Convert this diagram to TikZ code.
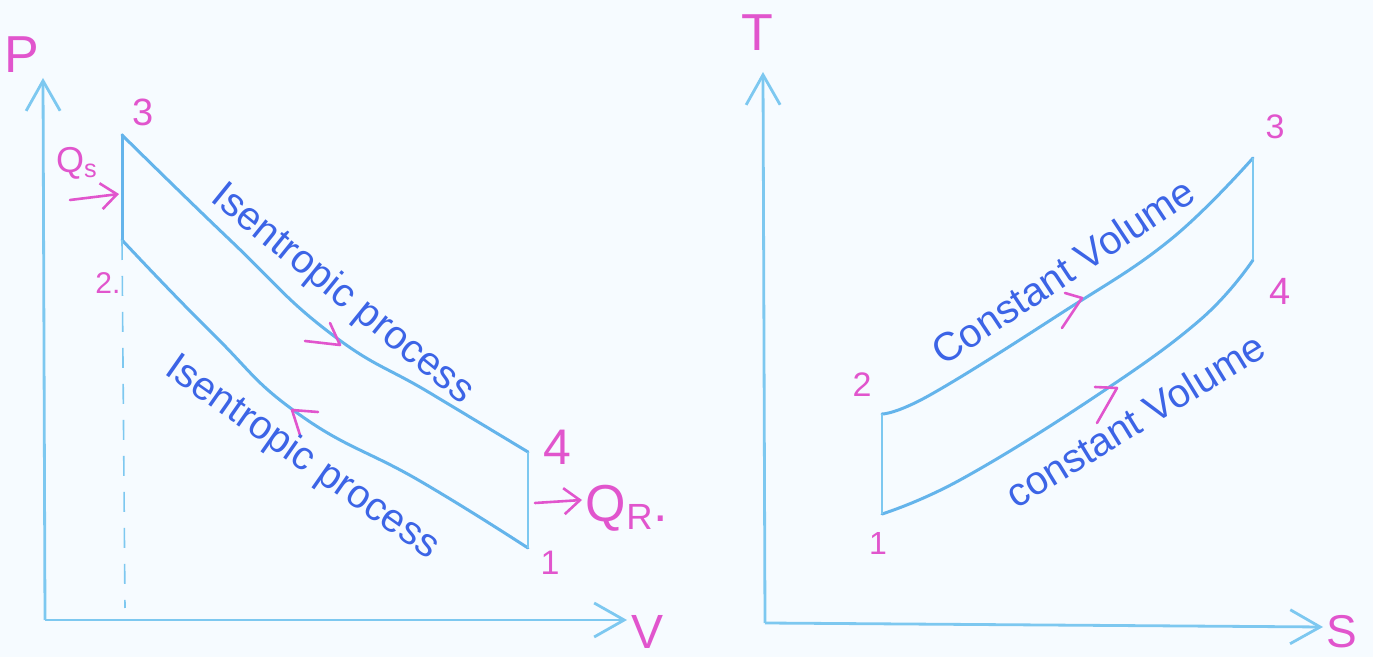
\documentclass[tikz,border=0pt]{standalone}
\usepackage{fontspec}
\setmainfont{Liberation Sans}
\usetikzlibrary{arrows.meta}
\definecolor{bgc}{RGB}{246,251,255}
\definecolor{axisc}{RGB}{125,200,240}
\definecolor{curvec}{RGB}{100,180,235}
\definecolor{inkc}{RGB}{60,100,230}
\definecolor{magc}{RGB}{225,85,205}
\begin{document}
\begin{tikzpicture}[x=0.5pt,y=-0.5pt,
  axisline/.style={draw=axisc,line width=1.4pt,-{Straight Barb[length=15pt,width=17pt]}},
  curve/.style={draw=curvec,line width=1.5pt,line cap=round},
  vline/.style={draw=axisc,line width=1.2pt},
  dashline/.style={draw=axisc,line width=0.8pt,dash pattern=on 10pt off 8pt},
  magline/.style={draw=magc,line width=1.3pt,line cap=round,line join=round},
  magarrow/.style={draw=magc,line width=1.3pt,line cap=round,-{Straight Barb[length=8pt,width=13pt]}},
  lbl/.style={text=magc,inner sep=0pt},
  proc/.style={text=inkc,inner sep=0pt,font=\fontsize{20}{20}\selectfont},
]
\path[fill=bgc] (0,0) rectangle (1373,657);

% ---------- left: P-V diagram ----------
\coordinate (O1) at (45,620);
\coordinate (Ptip) at (43,78);
\coordinate (Vtip) at (627,620);
\draw[axisline] (O1) -- (Ptip);
\draw[axisline] (O1) -- (Vtip);
\node[lbl,font=\fontsize{26}{26}\selectfont] (Plab) at (22,55) {P};
\node[lbl,font=\fontsize{24}{24}\selectfont] (Vlab) at (648,632) {V};

\coordinate (L3) at (122,135);
\coordinate (L2) at (122,240);
\coordinate (L4) at (528,452);
\coordinate (L1) at (528,548);
\coordinate (Ld) at (125,608);

\draw[curve] plot[smooth,tension=0.8] coordinates {(L3) (230,240) (330,333) (430,393) (L4)};
\draw[curve] plot[smooth,tension=0.8] coordinates {(L2) (212,333) (300,415) (420,481) (L1)};
\draw[curve] (L3) -- (L2);
\draw[vline] (L4) -- (L1);
\draw[dashline] (L2) -- (Ld);

\node[lbl,font=\fontsize{19}{19}\selectfont] (n3L) at (143,112) {3};
\node[lbl,font=\fontsize{15}{15}\selectfont] (n2L) at (108,283) {2.};
\node[lbl,font=\fontsize{25}{25}\selectfont] (n4L) at (557,447) {4};
\node[lbl,font=\fontsize{17}{17}\selectfont] (n1L) at (550,563) {1};

\node[lbl,font=\fontsize{18}{18}\selectfont] (Qs) at (77,163) {Q$_{\mathrm{s}}$};
\coordinate (qsT) at (70,200);
\coordinate (qsH) at (119,194);
\draw[magarrow] (qsT) -- (qsH);

\coordinate (qrT) at (535,503);
\coordinate (qrH) at (582,500);
\draw[magarrow] (qrT) -- (qrH);
\node[lbl,font=\fontsize{26}{26}\selectfont] (QR) at (627,508) {Q$_{\mathrm{R}}$.};

\coordinate (ut) at (340,345);
\coordinate (ua1) at (305,341);
\coordinate (ua2) at (330,323);
\draw[magline] (ua1) -- (ut) -- (ua2);
\coordinate (lt) at (292,410);
\coordinate (la1) at (318,412);
\coordinate (la2) at (300,435);
\draw[magline] (la1) -- (lt) -- (la2);

\node[proc,rotate=-39] (isU) at (342,295) {Isentropic process};
\node[proc,rotate=-35] (isL) at (302,458) {Isentropic process};

% ---------- right: T-S diagram ----------
\coordinate (O2) at (765,623);
\coordinate (Ttip) at (763,72);
\coordinate (Stip) at (1323,627);
\draw[axisline] (O2) -- (Ttip);
\draw[axisline] (O2) -- (Stip);
\node[lbl,font=\fontsize{26}{26}\selectfont] (Tlab) at (757,33) {T};
\node[lbl,font=\fontsize{23}{23}\selectfont] (Slab) at (1342,632) {S};

\coordinate (R2) at (882,414);
\coordinate (R1) at (882,514);
\coordinate (R3) at (1253,158);
\coordinate (R4) at (1253,260);

\draw[curve] plot[smooth,tension=0.7] coordinates {(R2) (930,395) (1060,314) (1170,240) (R3)};
\draw[curve] plot[smooth,tension=0.7] coordinates {(R1) (960,480) (1093,398) (1200,320) (R4)};
\draw[vline] (R2) -- (R1);
\draw[vline] (R3) -- (R4);

\node[lbl,font=\fontsize{17}{17}\selectfont] (n2R) at (862,385) {2};
\node[lbl,font=\fontsize{16}{16}\selectfont] (n1R) at (878,543) {1};
\node[lbl,font=\fontsize{17}{17}\selectfont] (n3R) at (1275,127) {3};
\node[lbl,font=\fontsize{19}{19}\selectfont] (n4R) at (1280,291) {4};

\coordinate (rut) at (1082,298);
\coordinate (rua1) at (1065,293);
\coordinate (rua2) at (1062,328);
\draw[magline] (rua1) -- (rut) -- (rua2);
\coordinate (rlt) at (1117,388);
\coordinate (rla1) at (1095,387);
\coordinate (rla2) at (1097,423);
\draw[magline] (rla1) -- (rlt) -- (rla2);

\node[proc,rotate=33.5] (cvU) at (1063,271) {Constant Volume};
\node[proc,rotate=31.5] (cvL) at (1135,420) {constant Volume};
\end{tikzpicture}
\end{document}
